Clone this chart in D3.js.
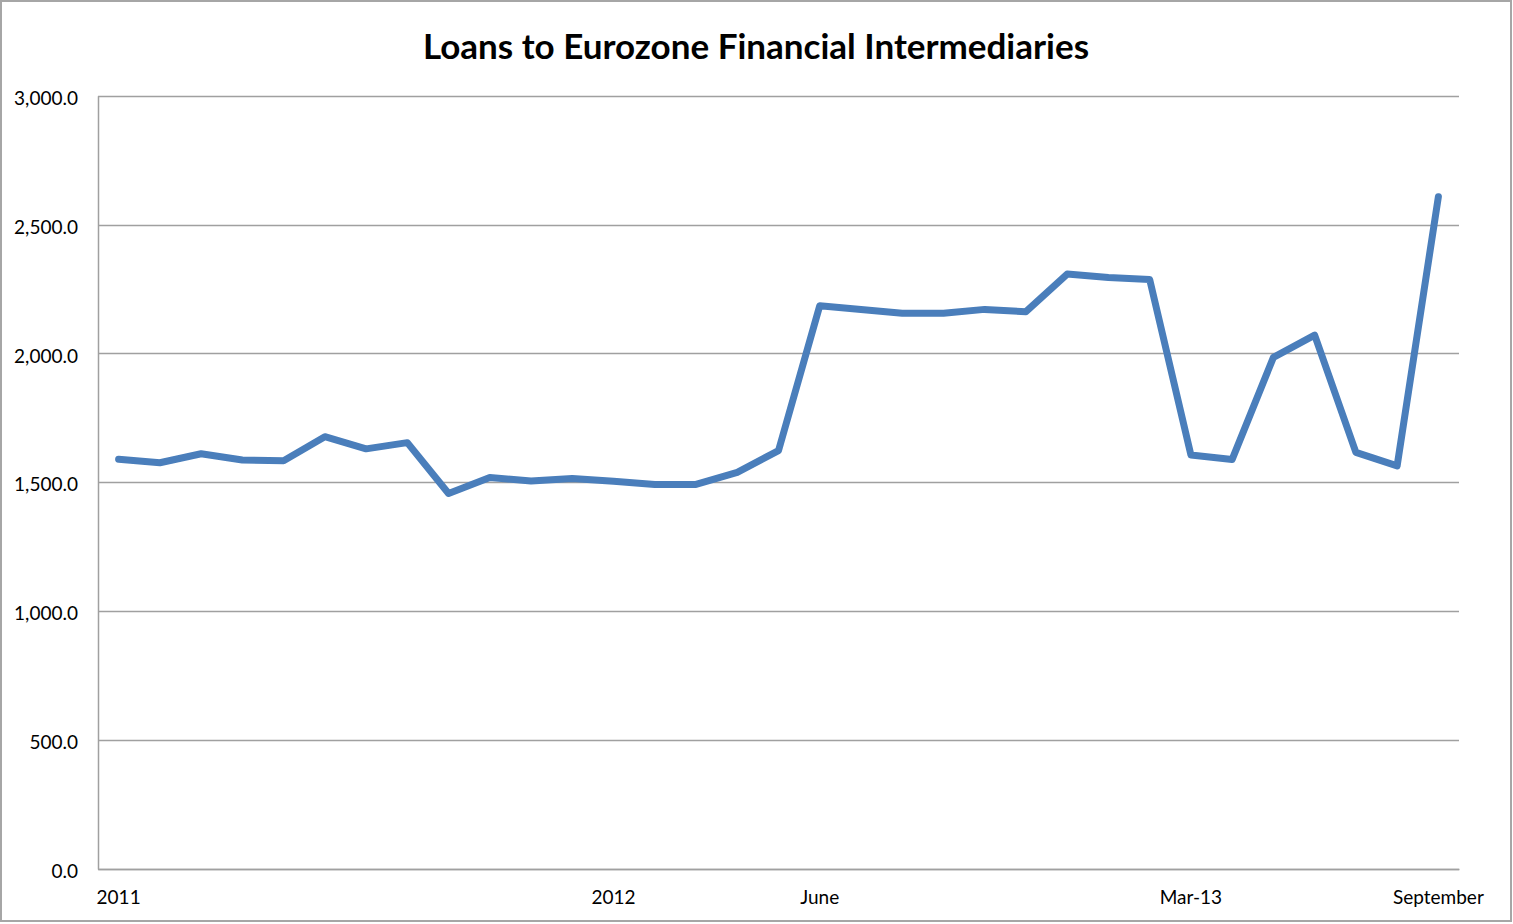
<!DOCTYPE html>
<html><head><meta charset="utf-8">
<script src="https://cdn.jsdelivr.net/npm/d3@7/dist/d3.min.js"></script>
<style>html,body{margin:0;padding:0;background:#fff;}svg{display:block;}</style>
</head><body>
<script>
const months = ["2011","Feb-11","Mar-11","Apr-11","May-11","Jun-11","Jul-11","Aug-11","Sep-11","Oct-11","Nov-11","Dec-11",
  "2012","Feb-12","Mar-12","Apr-12","May-12","June","Jul-12","Aug-12","Sep-12","Oct-12","Nov-12","Dec-12",
  "Jan-13","Feb-13","Mar-13","Apr-13","May-13","Jun-13","Jul-13","Aug-13","September"];
const values = [1590,1576,1611,1587,1584,1677,1630,1654,1457,1519,1505,1515,
  1504,1492,1492,1539,1623,2185,2171,2156,2156,2171,2162,2308,
  2295,2287,1606,1589,1985,2071,1616,1564,2608];
const shownLabels = ["2011","2012","June","Mar-13","September"];
const yTicks = [0,500,1000,1500,2000,2500,3000];
const title = "Loans to Eurozone Financial Intermediaries";

const W = 1513, H = 924;
const m = {left: 98, right: 1459, top: 95.7, bottom: 869};
const svg = d3.select("body").append("svg").attr("width", W).attr("height", H);
svg.append("rect").attr("x",1).attr("y",1).attr("width",1510).attr("height",920)
  .attr("fill","#fff").attr("stroke","#a6a6a6").attr("stroke-width",2);

const x = d3.scaleBand().domain(months).range([m.left, m.right]);
const y = d3.scaleLinear().domain([0,3000]).range([m.bottom, m.top]);
const font = "Lato, 'Open Sans', sans-serif";

// gridlines
svg.append("g").selectAll("line").data(yTicks).join("line")
  .attr("x1", m.left).attr("x2", m.right)
  .attr("y1", d => Math.round(y(d))+0.5).attr("y2", d => Math.round(y(d))+0.5)
  .attr("stroke", "#a0a0a0").attr("stroke-width", 1.5);

// y axis
const yAxis = svg.append("g").attr("transform", `translate(${m.left},0)`)
  .call(d3.axisLeft(y).tickValues(yTicks).tickSize(0).tickPadding(20).tickFormat(d3.format(",.1f")));
yAxis.select(".domain").attr("stroke","#a0a0a0").attr("stroke-width",1.5);
yAxis.selectAll("text").attr("font-family", font).attr("font-size", 19).attr("fill","#000").attr("dy","0.45em");

// x axis
const xAxis = svg.append("g").attr("transform", `translate(0,${m.bottom})`)
  .call(d3.axisBottom(x).tickValues(shownLabels).tickSize(0).tickPadding(22));
xAxis.select(".domain").attr("stroke","#a0a0a0").attr("stroke-width",1.5);
xAxis.selectAll("text").attr("font-family", font).attr("font-size", 19).attr("fill","#000");

// line
const line = d3.line().x((d,i) => x(months[i]) + x.bandwidth()/2).y(d => y(d));
svg.append("path").datum(values).attr("d", line)
  .attr("fill","none").attr("stroke","#4a7ebb").attr("stroke-width",7)
  .attr("stroke-linejoin","round").attr("stroke-linecap","round");

svg.append("text").attr("x", 756).attr("y", 59).attr("text-anchor","middle")
  .attr("font-family", font).attr("font-weight","bold").attr("font-size", 35)
  .attr("fill","#000").text(title);
</script>
</body></html>
